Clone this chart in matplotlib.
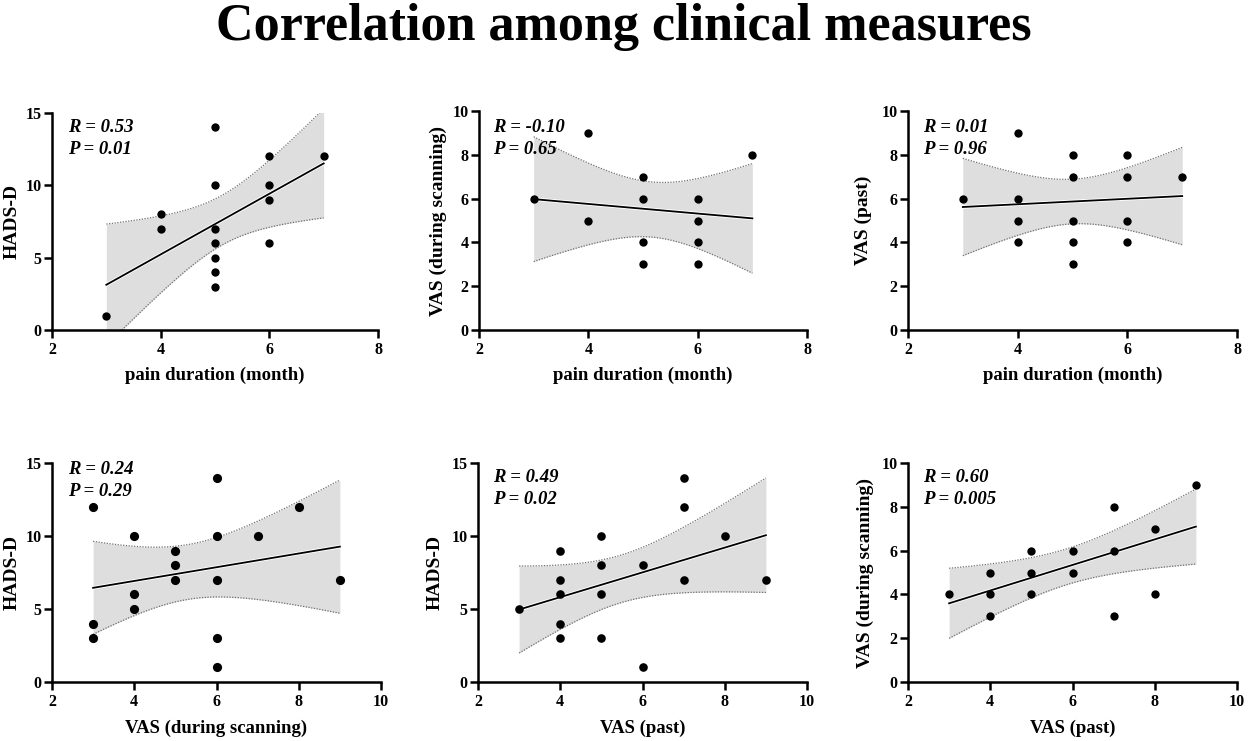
import numpy as np
import matplotlib
matplotlib.use("Agg")
import matplotlib.pyplot as plt

plt.rcParams['font.family'] = ['Liberation Serif', 'DejaVu Serif']
plt.rcParams['font.weight'] = 'bold'

# ---------------- data ----------------
p1_x = [3, 4, 4, 5, 5, 5, 5, 5, 5, 5, 6, 6, 6, 6, 7]
p1_y = [1, 8, 7, 14, 10, 7, 6, 5, 4, 3, 12, 10, 9, 6, 12]

p2_x = [3, 4, 4, 5, 5, 5, 5, 6, 6, 6, 6, 7]
p2_y = [6, 9, 5, 7, 6, 4, 3, 6, 5, 4, 3, 8]

p3_x = [3, 4, 4, 4, 4, 5, 5, 5, 5, 5, 6, 6, 6, 6, 7]
p3_y = [6, 9, 6, 5, 4, 8, 7, 5, 4, 3, 8, 7, 5, 4, 7]

p4_x = [3, 3, 3, 4, 4, 4, 5, 5, 5, 6, 6, 6, 6, 6, 7, 8, 9]
p4_y = [12, 4, 3, 10, 6, 5, 9, 8, 7, 14, 10, 7, 3, 1, 10, 12, 7]

p5_x = [3, 4, 4, 4, 4, 4, 5, 5, 5, 5, 6, 6, 7, 7, 7, 8, 9]
p5_y = [5, 9, 7, 6, 4, 3, 10, 8, 6, 3, 8, 1, 14, 12, 7, 10, 7]

p6_x = [3, 4, 4, 4, 5, 5, 5, 6, 6, 7, 7, 7, 8, 8, 9]
p6_y = [4, 5, 4, 3, 6, 5, 4, 6, 5, 8, 6, 3, 7, 4, 9]

xlabels = ["pain duration (month)", "pain duration (month)", "pain duration (month)",
           "VAS (during scanning)", "VAS (past)", "VAS (past)"]
ylabels = ["HADS-D", "VAS (during scanning)", "VAS (past)",
           "HADS-D", "HADS-D", "VAS (during scanning)"]
r_texts = ["R = 0.53", "R = -0.10", "R = 0.01", "R = 0.24", "R = 0.49", "R = 0.60"]
p_texts = ["P = 0.01", "P = 0.65", "P = 0.96", "P = 0.29", "P = 0.02", "P = 0.005"]
xlims = [(2, 8), (2, 8), (2, 8), (2, 10), (2, 10), (2, 10)]
ylims = [(0, 15), (0, 10), (0, 10), (0, 15), (0, 15), (0, 10)]
xticks = [[2, 4, 6, 8]] * 3 + [[2, 4, 6, 8, 10]] * 3
yticks = [[0, 5, 10, 15], [0, 2, 4, 6, 8, 10], [0, 2, 4, 6, 8, 10],
          [0, 5, 10, 15], [0, 5, 10, 15], [0, 2, 4, 6, 8, 10]]
title = "Correlation among clinical measures"

panels = [(p1_x, p1_y), (p2_x, p2_y), (p3_x, p3_y),
          (p4_x, p4_y), (p5_x, p5_y), (p6_x, p6_y)]

# ---------------- layout (pixels) ----------------
W, H = 1248, 741
fig = plt.figure(figsize=(W / 100, H / 100), dpi=100)
boxes = [(52, 378, 113, 330), (479, 807, 111, 330), (908, 1237, 111, 330),
         (52, 381, 463, 682), (478, 807, 463, 682), (908, 1237, 463, 682)]
msizes = [6, 6, 6, 6.6, 6.2, 6]
ylab_px = [12, 438, 863, 12, 435, 865]       # centre x of y label
xlab_off = [45, 45, 45, 46, 46, 46]          # px below the x axis
ann_dx = [16, 14, 15, 16, 15, 15]            # px from axis left
ann_dy = [15, 16, 16, 7, 14, 15]             # px from axis top (R line)
ann_gap = 22


def t_crit(nu):
    z = 1.959964
    return (z + (z**3 + z) / (4 * nu) + (5 * z**5 + 16 * z**3 + 3 * z) / (96 * nu**2)
            + (3 * z**7 + 19 * z**5 + 17 * z**3 - 15 * z) / (384 * nu**3))


fig.text(0.5, 1 - 40 / H, title, ha='center', va='baseline', fontsize=37.5,
         fontweight='bold')

for i, ((xs, ys), (l, r, t, b)) in enumerate(zip(panels, boxes)):
    aw, ah = r - l, b - t
    ax = fig.add_axes([l / W, 1 - b / H, aw / W, ah / H])
    x = np.asarray(xs, float)
    y = np.asarray(ys, float)
    n = len(x)
    slope, inter = np.polyfit(x, y, 1)
    xg = np.linspace(x.min(), x.max(), 200)
    yfit = slope * xg + inter
    resid = y - (slope * x + inter)
    s = np.sqrt(np.sum(resid**2) / (n - 2))
    sxx = np.sum((x - x.mean())**2)
    se = s * np.sqrt(1 / n + (xg - x.mean())**2 / sxx)
    hw = t_crit(n - 2) * se
    ax.fill_between(xg, yfit - hw, yfit + hw, color='#dedede', lw=0, zorder=1)
    ax.plot(xg, yfit + hw, ls=(0, (1, 1.2)), color='#707070', lw=0.9, zorder=2)
    ax.plot(xg, yfit - hw, ls=(0, (1, 1.2)), color='#707070', lw=0.9, zorder=2)
    ax.plot(xg, yfit, color='white', lw=2.6, zorder=3)
    ax.plot(xg, yfit, color='black', lw=1.3, zorder=4)
    ax.plot(x, y, 'o', color='black', ms=msizes[i], mew=0, zorder=5, clip_on=False)

    ax.set_xlim(*xlims[i])
    ax.set_ylim(*ylims[i])
    ax.set_xticks(xticks[i])
    ax.set_yticks(yticks[i])
    for sp in ['top', 'right']:
        ax.spines[sp].set_visible(False)
    for sp in ['left', 'bottom']:
        ax.spines[sp].set_linewidth(1.8)
    ax.tick_params(direction='out', length=6, width=1.8, labelsize=11.5, pad=3)
    ax.tick_params(axis='y', pad=1.5)
    for lab in ax.get_xticklabels() + ax.get_yticklabels():
        lab.set_fontweight('bold')

    ax.set_xlabel(xlabels[i], fontsize=13.5, fontweight='bold')
    ax.xaxis.set_label_coords(0.5, -xlab_off[i] / ah)
    ax.xaxis.label.set_verticalalignment('center')
    ax.set_ylabel(ylabels[i], fontsize=14, fontweight='bold')
    ax.yaxis.set_label_coords((ylab_px[i] - l) / aw, 0.5)
    ax.yaxis.label.set_verticalalignment('center')

    ax.text(ann_dx[i] / aw, 1 - ann_dy[i] / ah, r_texts[i], transform=ax.transAxes,
            fontsize=13.5, fontweight='bold', fontstyle='italic', va='center',
            ha='left')
    ax.text(ann_dx[i] / aw, 1 - (ann_dy[i] + ann_gap) / ah, p_texts[i],
            transform=ax.transAxes, fontsize=13.5, fontweight='bold',
            fontstyle='italic', va='center', ha='left')

fig.savefig("out.png", dpi=100)
